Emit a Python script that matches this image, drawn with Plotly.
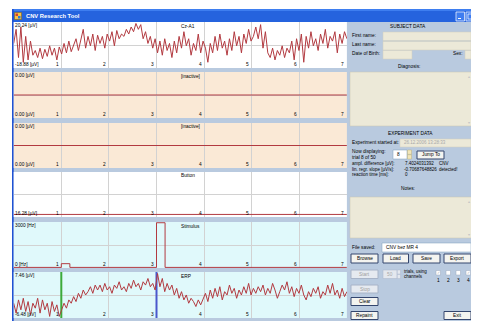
import numpy as np
import plotly.graph_objects as go

W, H = 479, 321
OFF = 8  # the page body margin shifts the figure by 8 px
FONT = "Liberation Sans, Arial, sans-serif"
FS = 4.8

# ---------------- data ----------------
x_ticks = [1, 2, 3, 4, 5, 6, 7]
x_tick_text = ["1", "2", "3", "4", "5", "6", "7"]

eeg_cz = [2, 14, -10, 16, -14, 8, -12, 4, -8,
          -4, -10, -2, -11, -3, -9, 0, -8, -2, -12, -1, -7, 2, -6, 4, -5, 1,
          6, -4, 4, 14, -2, 8, 0, 10, -4, 9, 2, 8, -2, 10, 4, 12, 0, 13, 6, 10,
          8, 14, 10, 16, 12, 19, 14, 18, 6, 12, 2,
          8, -2, 6, -6, 4, -8, 6, -4, 2, -10, 4, -6, 8, -2, 12, 0, 6, -8, 2, -4, 10, -6, 4, -2,
          -14, 2, -6, 8, -4, 10, -2, 4, -8, 6, -4, 12, 0, 8, -6, 10, 2, 14, 4, 8,
          16, 6, 18, -2, 12, -6,
          -10, -2, -12, -4, -8, 0, -10, -2, -6, 4, -12, 6, -4, 10,
          -14, 8, -2, 12, 0, 6, -4, 10, 2, 14, -2, 8, 4, 12, -6, 10, 2, 12, 6]

erp = [-2, -5, -1, -4, -0.5, -4.5, -1.5, -5.5, -2, -3.5, -0.5, -5, -1, -4, -2, -6, -1.5, -4.5, -2.5, -6,
       -4, -2, -3.5, -1, -2, 0, -1.5, 1, -0.5, 2, 0.5, 1.5, 3, 1, 3.5, 2,
       3.5, 1.5, 4, 2, 3, 1, 3.5, 2.5, 4.5, 2, 3, 1.5, 4, 2.5, 5, 3, 4, 2, 4.5, 3.5, 5.5, 3, 4,
       2, 7, 3, 5.5, 1.5, 4,
       2, 3.5, 0.5, 2.5, -0.5, 1.5, -1, 0.5, -2, -0.5, -1.5, -3, -1, -2.5, -0.5,
       1, -1.5, 2, -0.5, 2.5, 0, 3, -1, 1.5, 0.5, 3.5, 1, 2.5, -0.5, 2, 0.5, 3, 1, 4, 0.5, 2.5, 1, 3,
       1.5, 3.5, 0.5, 2.5, 1, 4, 2, -0.5, 1.5, 3.5, 2, 4.5, 1, 3, 0, 2.5, 1, 3.5, 0.5, -1, 1.5, 0,
       2.5, 1, 3, -0.5, 1.5, 0.5, 3.5, 1, 4, 0.5, 2, -0.5, 2.5, 0, 1.5]

inactive_x = [0, 7]
inactive_uv = [0, 0]
button_x = [0, 7]
button_uv = [16.28, 16.28]
stim_x = [0, 1.0, 1.0, 1.18, 1.18, 3.0, 3.0, 3.18, 3.18, 7]
stim_hz = [0, 0, 250, 250, 0, 0, 3000, 3000, 0, 0]
marker_green_x = 1.0
marker_blue_x = 3.0

panel_titles = ["Cz-A1", "[inactive]", "[inactive]", "Button", "Stimulus", "ERP"]
top_labels = ["20.24 [µV]", "0.00 [µV]", "0.00 [µV]", "", "3000 [Hz]", "7.46 [µV]"]
bottom_labels = ["-18.88 [µV]", "0.00 [µV]", "0.00 [µV]", "16.28 [µV]", "0 [Hz]", "-6.48 [µV]"]
y_ranges = [[-18.88, 20.24], [-1, 1], [-1, 1], [16.2, 17.6], [-40, 3050], [-6.48, 7.46]]

# ---------------- layout helpers ----------------
PANE = "#B9CADF"
BEIGE_BOX = "#ECE9D8"
TRACE = "#B23A40"
GRID = "#D2D2D2"
panel_bg = ["#FFFFFF", "#FAE9D6", "#FAE9D6", "#FFFFFF", "#E0F9FB", "#E0F9FB"]
panels_px = [(22, 68), (72, 118), (123, 168), (172, 217), (222, 268), (272, 318)]
PX0, PX1 = 13.7, 346.9


def PXX(x):
    return (x - OFF) / W


def PXY(y):
    return 1 - (y - OFF) / H


shapes = []
ann = []


def R(x0, y0, x1, y1, fill, line=None, lw=1):
    shapes.append(dict(type="rect", xref="paper", yref="paper",
                       x0=PXX(x0), x1=PXX(x1), y0=PXY(y1), y1=PXY(y0),
                       fillcolor=fill,
                       line=dict(color=line if line else "rgba(0,0,0,0)", width=lw if line else 0),
                       layer="below"))


def T(x, y, s, anchor="left", size=FS, color="black", bold=False):
    ann.append(dict(x=PXX(x), y=PXY(y), xref="paper", yref="paper",
                    text=("<b>%s</b>" % s) if bold else s, showarrow=False,
                    xanchor=anchor, yanchor="middle", borderpad=0,
                    font=dict(size=size, color=color, family=FONT)))


def BTN(x0, y0, x1, y1, label, enabled=True):
    R(x0, y0, x1, y1, "#F4F4F0" if enabled else "#E6EAF0",
      "#34466E" if enabled else "#A8B4C8", 1)
    T((x0 + x1) / 2, (y0 + y1) / 2, label, anchor="center",
      color="black" if enabled else "#A0A0A0")


# window frame
R(12, 22, 490, 330, PANE)
R(12, 9, 490, 22, "#2563DE")
R(12, 9, 490, 11, "#3E7EF0")
R(12, 9, 13.7, 330, "#1F52D4")
# title icon
R(14.5, 12.5, 21.5, 19.5, "#F3C24A", "#7A5A10", 0.5)
R(15.5, 13.5, 18, 16, "#D8402A")
R(18, 16, 20.5, 18.5, "#2A7AD8")
T(25, 15.7, "CNV Research Tool", size=5.8, color="white", bold=True)
# window buttons
R(456, 12, 464.5, 21, "#3F7DF0", "white", 0.7)
R(458, 18, 461, 19, "white")
R(466, 12, 474.5, 21, "#3F7DF0", "white", 0.7)
R(468, 14, 472.5, 19, "rgba(0,0,0,0)", "white", 0.7)
R(476, 12, 486, 21, "#D9552F", "white", 0.7)

# panel backgrounds
for (top, bot), bg in zip(panels_px, panel_bg):
    R(PX0, top, PX1, bot, bg)

# ---------------- right pane ----------------
T(408, 26.5, "SUBJECT DATA", anchor="center")
T(351, 35.5, "First name:")
R(383, 32, 471, 40.5, BEIGE_BOX, "#D2CEBC", 0.5)
T(351, 44.5, "Last name:")
R(383, 41.5, 471, 50, BEIGE_BOX, "#D2CEBC", 0.5)
T(351, 53.5, "Date of Birth:")
R(383, 50.5, 412, 59, BEIGE_BOX, "#D2CEBC", 0.5)
T(452, 53.5, "Sex:")
R(465, 50.5, 471, 59, BEIGE_BOX, "#D2CEBC", 0.5)
T(409, 66.5, "Diagnosis:", anchor="center")
R(350, 72, 472, 126, BEIGE_BOX, "#C9C5B3", 0.5)
T(468.5, 76, "▴", anchor="center", size=4, color="#C4C4C4")
T(468.5, 122, "▾", anchor="center", size=4, color="#C4C4C4")

T(410, 133.5, "EXPERIMENT DATA", anchor="center")
T(351, 143, "Experiment started at:")
R(400, 139, 471, 147, BEIGE_BOX, "#D2CEBC", 0.5)
T(403, 143, "26.12.2006 13:28:33", color="#A8A8A8", size=4.5)
T(351, 151.5, "Now displaying:")
T(351, 157.5, "trial 8 of 50")
R(393, 150, 407, 159, "white", "#7F9DB9", 0.5)
T(396, 154.5, "8")
R(407.5, 150, 411.5, 154.3, "#F2E6B8", "#B8A870", 0.4)
R(407.5, 154.7, 411.5, 159, "#F2E6B8", "#B8A870", 0.4)
BTN(417, 151, 444, 159, "Jump To")
T(351, 163.5, "ampl. difference [µV]:", size=4.5)
T(404, 163.5, "7.4024031392", size=4.5)
T(438, 163.5, "CNV", size=4.5)
T(351, 169.3, "lin. regr. slope [µV/s]:", size=4.5)
T(403, 169.3, "-0.70687648826", size=4.5)
T(438, 169.3, "detected!", size=4.5)
T(351, 175, "reaction time [ms]:", size=4.5)
T(404, 175, "0", size=4.5)
T(408, 189, "Notes:", anchor="center")
R(350, 197, 472, 238, BEIGE_BOX, "#C9C5B3", 0.5)
T(468.5, 201, "▴", anchor="center", size=4, color="#C4C4C4")
T(468.5, 234, "▾", anchor="center", size=4, color="#C4C4C4")

T(351, 247.5, "File saved:")
R(382, 243, 471, 252, "white", "#7F9DB9", 0.5)
T(385, 247.5, "CNV bez MR 4")
BTN(351, 254, 378, 263, "Browse")
BTN(383, 254, 408.5, 263, "Load")
BTN(413, 254, 440, 263, "Save")
BTN(444, 254, 471, 263, "Export")
BTN(351, 270, 378, 278.5, "Start", enabled=False)
R(383, 270, 397, 278.5, "#E4E8EE", "#A8B4C8", 0.5)
T(386, 274.3, "50", color="#A8A8A8")
R(397.3, 270, 400.5, 274, "#E4E8EE", "#A8B4C8", 0.4)
R(397.3, 274.5, 400.5, 278.5, "#E4E8EE", "#A8B4C8", 0.4)
T(403, 271.8, "trials, using", size=4.5)
T(403, 276.8, "channels", size=4.5)
for cx, lab, chk in [(436, "1", True), (446, "2", False), (456, "3", False), (466, "4", True)]:
    R(cx, 270.5, cx + 4.5, 275, "white", "#9AA8BC", 0.5)
    if chk:
        T(cx + 2.25, 272.8, "✓", anchor="center", size=4.2, color="#A0A8B0")
    T(cx + 2.25, 280.5, lab, anchor="center")
BTN(351, 285, 378, 293, "Stop", enabled=False)
BTN(351, 297.5, 378, 305.5, "Clear")
BTN(351, 311.5, 378, 319.5, "Repaint")
BTN(444, 311.5, 471, 319.5, "Exit")

# ---------------- panels (traces) ----------------
fig = go.Figure()
layout = {}
line_style = dict(color=TRACE, width=1)

eeg_t = np.linspace(0, 7, len(eeg_cz))
erp_t = np.linspace(0, 7, len(erp))

traces = [
    (eeg_t, eeg_cz),
    (inactive_x, inactive_uv),
    (inactive_x, inactive_uv),
    (button_x, button_uv),
    (stim_x, stim_hz),
    (erp_t, erp),
]

for i in range(6):
    n = "" if i == 0 else str(i + 1)
    top, bot = panels_px[i]
    yr = y_ranges[i]
    mid = (yr[0] + yr[1]) / 2
    layout["xaxis" + n] = dict(domain=[PXX(PX0), PXX(PX1)], range=[0, 7], anchor="y" + n,
                               tickvals=x_ticks, showgrid=True, gridcolor=GRID, gridwidth=1,
                               showticklabels=False, ticks="",
                               zeroline=False, showline=False, fixedrange=True)
    layout["yaxis" + n] = dict(domain=[PXY(bot), PXY(top)], range=yr, anchor="x" + n,
                               tickvals=[mid], showgrid=True, gridcolor=GRID,
                               showticklabels=False, ticks="", zeroline=False,
                               showline=False, fixedrange=True)
    xs, ys = traces[i]
    if i == 5:
        fig.add_trace(go.Scatter(x=[marker_green_x, marker_green_x], y=yr, mode="lines",
                                 line=dict(color="#3DAA3A", width=2),
                                 xaxis="x" + n, yaxis="y" + n, hoverinfo="skip"))
        fig.add_trace(go.Scatter(x=[marker_blue_x, marker_blue_x], y=yr, mode="lines",
                                 line=dict(color="#4A58CC", width=2),
                                 xaxis="x" + n, yaxis="y" + n, hoverinfo="skip"))
    fig.add_trace(go.Scatter(x=xs, y=ys, mode="lines", line=line_style,
                             xaxis="x" + n, yaxis="y" + n, hoverinfo="skip"))
    # tick labels placed through the x axis scale, just left of each grid line
    for tv, tt in zip(x_ticks, x_tick_text):
        ann.append(dict(x=tv, xref="x" + n, y=PXY(bot - 3.3), yref="paper",
                        text=tt, showarrow=False, xanchor="right", yanchor="middle",
                        xshift=-1.5, borderpad=0,
                        font=dict(size=FS, color="black", family=FONT)))
    if top_labels[i]:
        T(PX0 + 0.5, top + 3.2, top_labels[i])
    T(PX0 + 0.5, bot - 3.3, bottom_labels[i])
    T(180, top + 4, panel_titles[i])

fig.update_layout(**layout)
fig.update_layout(width=W, height=H, margin=dict(l=0, r=0, t=0, b=0),
                  paper_bgcolor="white", plot_bgcolor="rgba(0,0,0,0)",
                  showlegend=False, shapes=shapes, annotations=ann,
                  font=dict(family=FONT, size=FS))
fig.write_html("out.html")
